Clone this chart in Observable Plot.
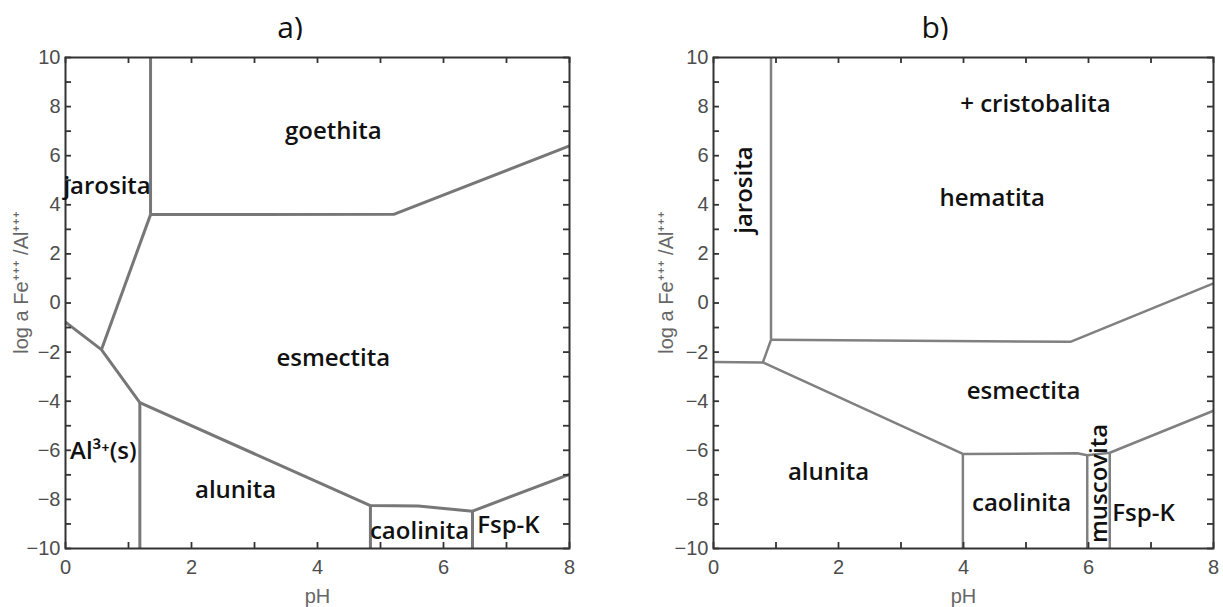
<!DOCTYPE html>
<html>
<head>
<meta charset="utf-8">
<script src="https://cdn.jsdelivr.net/npm/d3@7"></script>
<script src="https://cdn.jsdelivr.net/npm/@observablehq/plot@0.6"></script>
<style>
  html, body { margin: 0; padding: 0; background: #fff; }
  #wrap { position: relative; width: 1223px; height: 607px; overflow: hidden; background: #fff; }
  .title { position: absolute; top: 6px; font-family: "Open Sans", sans-serif; font-size: 30px; color: #111; transform: translateX(-50%); }
  .panel { position: absolute; top: 40px; }
</style>
</head>
<body>
<div id="wrap">
  <div class="title" style="left:290px">a)</div>
  <div class="title" style="left:935px">b)</div>
  <div class="panel" id="pa" style="left:0px"></div>
  <div class="panel" id="pb" style="left:640px"></div>
</div>
<script>
// ---- Data ----
const xDomain = [0, 8];
const yDomain = [-10, 10];
const xLabelTicks = [0, 2, 4, 6, 8];
const xMinorTicks = [0, 1, 2, 3, 4, 5, 6, 7, 8];
const yLabelTicks = [-10, -8, -6, -4, -2, 0, 2, 4, 6, 8, 10];
const yMinorTicks = [-10, -9, -8, -7, -6, -5, -4, -3, -2, -1, 0, 1, 2, 3, 4, 5, 6, 7, 8, 9, 10];
const xTitle = "pH";
const yTitle = "log a Fe\u207A\u207A\u207A /Al\u207A\u207A\u207A";
const yTitleAt = 0.85; // vertical centre of the y title, in axis units

// Panel a) stability field boundaries (pH, log a Fe/Al)
const boundariesA = [
  [[1.35, 10], [1.35, 3.6]],
  [[1.35, 3.6], [5.22, 3.62], [8, 6.4]],
  [[1.35, 3.6], [0.57, -1.9]],
  [[0, -0.78], [0.57, -1.9], [1.18, -4.06], [4.84, -8.25], [5.6, -8.27], [6.46, -8.48], [8, -6.98]],
  [[1.18, -4.06], [1.18, -10]],
  [[4.84, -8.25], [4.84, -10]],
  [[6.46, -8.48], [6.46, -10]]
];
const labelsA = [
  {text: "goethita", x: 4.25, y: 7.0, rotate: 0},
  {text: "jarosita", x: 0.66, y: 4.75, rotate: 0},
  {text: "esmectita", x: 4.25, y: -2.25, rotate: 0},
  {text: "Al\u00B3\u207A(s)", x: 0.6, y: -6.05, rotate: 0},
  {text: "alunita", x: 2.7, y: -7.65, rotate: 0},
  {text: "caolinita", x: 5.62, y: -9.3, rotate: 0},
  {text: "Fsp-K", x: 7.03, y: -9.05, rotate: 0}
];

// Panel b) stability field boundaries
const boundariesB = [
  [[0.92, 10], [0.92, -1.5]],
  [[0.92, -1.5], [5.71, -1.58], [8, 0.8]],
  [[0, -2.4], [0.79, -2.42], [0.92, -1.5]],
  [[0.79, -2.42], [3.99, -6.15], [5.82, -6.12], [5.98, -6.2], [6.34, -6.1], [8, -4.39]],
  [[3.99, -6.15], [3.99, -10]],
  [[5.98, -6.2], [5.98, -10]],
  [[6.34, -6.1], [6.34, -10]]
];
const labelsB = [
  {text: "+ cristobalita", x: 5.15, y: 8.1, rotate: 0},
  {text: "hematita", x: 4.46, y: 4.25, rotate: 0},
  {text: "jarosita", x: 0.5, y: 4.6, rotate: -90},
  {text: "esmectita", x: 4.96, y: -3.6, rotate: 0},
  {text: "alunita", x: 1.84, y: -6.9, rotate: 0},
  {text: "caolinita", x: 4.93, y: -8.15, rotate: 0},
  {text: "muscovita", x: 6.17, y: -7.35, rotate: -90},
  {text: "Fsp-K", x: 6.88, y: -8.55, rotate: 0}
];

// ---- Drawing ----
const minus = d => (d < 0 ? "\u2212" + (-d) : String(d));
const AX_FONT = "'Liberation Sans', Arial, sans-serif";
const LBL_FONT = "'Open Sans', sans-serif";

function panel(boundaries, labels, cfg) {
  const H = 567, MT = 17, MB = 59;
  const innerH = H - MT - MB;
  const innerW = cfg.width - cfg.marginLeft - cfg.marginRight;
  const tk = 6;
  const rows = boundaries.flatMap((pts, i) => pts.map(([x, y]) => ({id: i, x, y})));
  const tickStyle = {stroke: "#333", strokeWidth: 1.8};
  return Plot.plot({
    width: cfg.width,
    height: H,
    marginTop: MT,
    marginBottom: MB,
    marginLeft: cfg.marginLeft,
    marginRight: cfg.marginRight,
    x: {domain: xDomain, axis: null},
    y: {domain: yDomain, axis: null},
    style: {fontFamily: AX_FONT, fontSize: "19px", background: "#fff"},
    marks: [
      Plot.line(rows, {x: "x", y: "y", z: "id", stroke: cfg.lineColor, strokeWidth: cfg.lineWidth, strokeLinejoin: "round", strokeLinecap: "butt"}),
      // inward ticks on all four sides
      Plot.tickX(xMinorTicks, {x: d => d, insetTop: innerH - tk, ...tickStyle}),
      Plot.tickX(xMinorTicks, {x: d => d, insetBottom: innerH - tk, ...tickStyle}),
      Plot.tickY(yMinorTicks, {y: d => d, insetRight: innerW - tk, ...tickStyle}),
      Plot.tickY(yMinorTicks, {y: d => d, insetLeft: innerW - tk, ...tickStyle}),
      // tick labels
      Plot.text(xLabelTicks, {x: d => d, text: minus, frameAnchor: "bottom", lineAnchor: "top", dy: 11, fontSize: 20, fontFamily: AX_FONT, fill: "#4d4d4d"}),
      Plot.text(yLabelTicks, {y: d => d, text: minus, frameAnchor: "left", textAnchor: "end", dx: -5, fontSize: 20, fontFamily: AX_FONT, fill: "#4d4d4d"}),
      // axis titles
      Plot.text([xTitle], {text: d => d, frameAnchor: "bottom", lineAnchor: "middle", dy: 48, fontSize: 20, fontFamily: AX_FONT, fill: "#666"}),
      Plot.text([yTitle], {y: () => yTitleAt, text: d => d, frameAnchor: "left", textAnchor: "middle", rotate: -90, dx: -cfg.labelOffsetY, fontSize: 20, fontFamily: AX_FONT, fill: "#666"}),
      Plot.frame({stroke: "#333", strokeWidth: 2}),
      Plot.text(labels, {x: "x", y: "y", text: "text", rotate: "rotate", fontSize: 24, fontWeight: 600, fontFamily: LBL_FONT, fill: "#111"})
    ]
  });
}

document.getElementById("pa").append(panel(boundariesA, labelsA, {width: 611, marginLeft: 65, marginRight: 42, lineColor: "#777", lineWidth: 3, labelOffsetY: 44}));
document.getElementById("pb").append(panel(boundariesB, labelsB, {width: 583, marginLeft: 73, marginRight: 10, lineColor: "#808080", lineWidth: 2.5, labelOffsetY: 47}));
</script>
</body>
</html>
